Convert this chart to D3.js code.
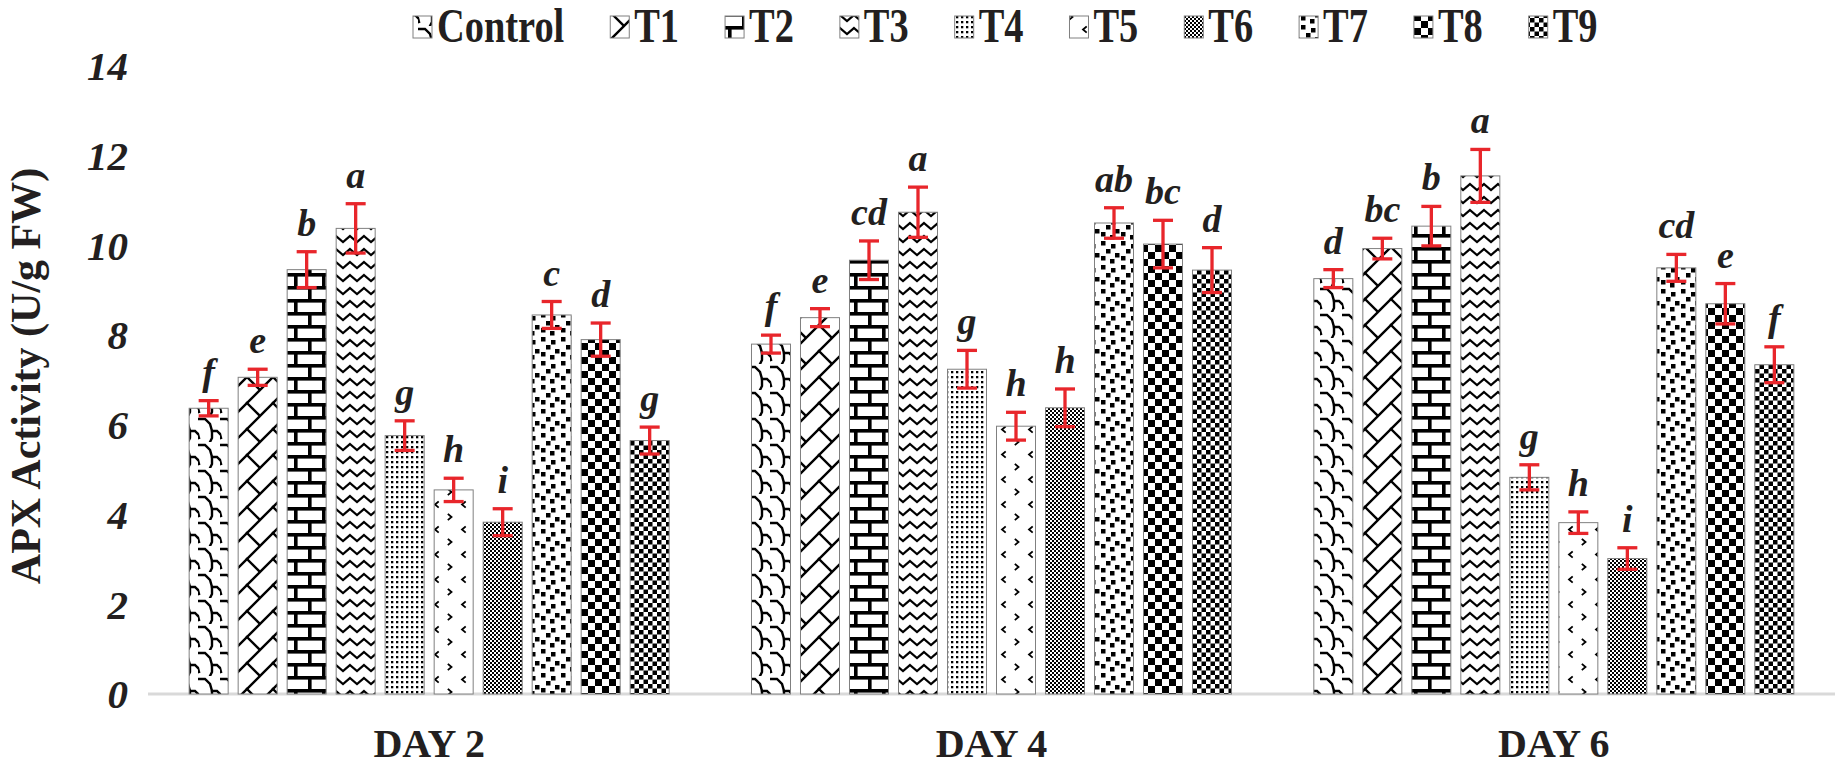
<!DOCTYPE html>
<meta charset="utf-8">
<style>
html, body { margin: 0; padding: 0; background: #fff; }
svg text { font-family: 'Liberation Serif', 'Times New Roman', serif; font-weight: bold; fill: #231f20; }
</style>
<body>
<script src="https://cdn.jsdelivr.net/npm/d3@7"></script>
<script>
// values
var categories = ["DAY 2", "DAY 4", "DAY 6"];
var treatments = ["Control", "T1", "T2", "T3", "T4", "T5", "T6", "T7", "T8", "T9"];
var day2 = [6.37, 7.06, 9.46, 10.38, 5.76, 4.55, 3.83, 8.45, 7.90, 5.65];
var day4 = [7.80, 8.39, 9.67, 10.74, 7.24, 5.97, 6.38, 10.50, 10.03, 9.45];
var day6 = [9.26, 9.93, 10.43, 11.55, 4.83, 3.82, 3.02, 9.50, 8.70, 7.34];
var err2 = [0.17, 0.18, 0.40, 0.55, 0.33, 0.26, 0.30, 0.30, 0.37, 0.30];
var err4 = [0.20, 0.20, 0.43, 0.56, 0.42, 0.31, 0.42, 0.34, 0.53, 0.50];
var err6 = [0.20, 0.23, 0.44, 0.59, 0.28, 0.24, 0.24, 0.30, 0.45, 0.40];
var letters2 = ["f", "e", "b", "a", "g", "h", "i", "c", "d", "g"];
var letters4 = ["f", "e", "cd", "a", "g", "h", "h", "ab", "bc", "d"];
var letters6 = ["d", "bc", "b", "a", "g", "h", "i", "cd", "e", "f"];
var yTicks = [0, 2, 4, 6, 8, 10, 12, 14];

var values = [day2, day4, day6], errs = [err2, err4, err6], letters = [letters2, letters4, letters6];

var W = 1837, H = 771;
var svg = d3.select("body").append("svg").attr("width", W).attr("height", H);

var x0 = d3.scaleBand().domain(categories).range([148, 1835]).paddingInner(0.1286).paddingOuter(0.0643);
var x1 = d3.scaleBand().domain(treatments).range([0, x0.bandwidth()]).paddingInner(0.204).paddingOuter(0.102);
var y = d3.scaleLinear().domain([0, 14]).range([694, 66]);

// fill patterns, one per treatment (black on white)
var defs = svg.append("defs");
function pat(id, w, h) {
  var p = defs.append("pattern").attr("id", id).attr("patternUnits", "userSpaceOnUse")
    .attr("width", w).attr("height", h);
  p.append("rect").attr("width", w).attr("height", h).attr("fill", "#fff");
  return p;
}
function line(p, d, sw) {
  p.append("path").attr("d", d).attr("fill", "none").attr("stroke", "#000")
    .attr("stroke-width", sw).attr("stroke-linecap", "square");
}
function sq(p, list, s) {
  list.forEach(function(c) {
    p.append("rect").attr("x", c[0]).attr("y", c[1]).attr("width", s).attr("height", s).attr("fill", "#000");
  });
}
// Control - shingle
var p0 = pat("p0", 22, 26);
line(p0, "M0,3 L7,3 L12,8 L14,15 L14,22 L12,26", 2.4);
line(p0, "M14,15 L19,15 L22,18", 2.4);
line(p0, "M0,18 L1,22", 2.4);
// T1 - diagonal brick
var p1 = pat("p1", 26, 26);
line(p1, "M0,26 L26,0", 2.4);
line(p1, "M13,13 L26,26", 2.4);
line(p1, "M-2,2 L2,-2 M24,28 L28,24", 2.4);
// T2 - horizontal brick
var p2 = pat("p2", 28, 26);
p2.append("rect").attr("x", 0).attr("y", 0).attr("width", 28).attr("height", 3.6).attr("fill", "#000");
p2.append("rect").attr("x", 0).attr("y", 13).attr("width", 28).attr("height", 3.6).attr("fill", "#000");
p2.append("rect").attr("x", 0).attr("y", 0).attr("width", 3.6).attr("height", 13).attr("fill", "#000");
p2.append("rect").attr("x", 14).attr("y", 13).attr("width", 3.6).attr("height", 13).attr("fill", "#000");
// T3 - zig zag
var p3 = pat("p3", 14, 13);
line(p3, "M0,2 L7,8 L14,2", 2.2);
// T4 - dotted grid
var p4 = pat("p4", 5, 5);
sq(p4, [[1, 1]], 2.3);
// T5 - divot
var p5 = pat("p5", 27, 25);
line(p5, "M6,2 L3,4.5 L6,7", 1.8);
line(p5, "M16.5,14.5 L19.5,17 L16.5,19.5", 1.8);
// T6 - small checkerboard
var p6 = pat("p6", 4, 4);
sq(p6, [[0, 0], [2, 2]], 2);
// T7 - large confetti
var p7 = pat("p7", 20, 24);
sq(p7, [[1, 1], [11, 4], [6, 9], [15, 13], [1, 16], [10, 19]], 4.5);
// T8 - large checkerboard
var p8 = pat("p8", 14, 14);
sq(p8, [[0, 0], [7, 7]], 7);
// T9 - medium checkerboard
var p9 = pat("p9", 9, 9);
sq(p9, [[0, 0], [4.5, 4.5]], 4.5);

// baseline
svg.append("line").attr("x1", 148).attr("x2", 1835).attr("y1", y(0)).attr("y2", y(0))
  .attr("stroke", "#d9d9d9").attr("stroke-width", 3);

// y tick labels
svg.append("g").selectAll("text").data(yTicks).join("text")
  .attr("x", 128).attr("y", function(d) { return y(d); }).attr("dy", "0.35em")
  .attr("text-anchor", "end").attr("font-size", 41).attr("font-style", "italic")
  .text(function(d) { return d; });

// y title
svg.append("text").attr("transform", "translate(40,376) rotate(-90)")
  .attr("text-anchor", "middle").attr("font-size", 42)
  .text("APX Activity (U/g FW)");

// category labels
svg.append("g").selectAll("text").data(categories).join("text")
  .attr("x", function(d) { return x0(d) + x0.bandwidth() / 2; }).attr("y", 757)
  .attr("text-anchor", "middle").attr("font-size", 40)
  .text(function(d) { return d; });

// bars
var rows = [];
categories.forEach(function(c, ci) {
  treatments.forEach(function(t, ti) {
    rows.push({cat: c, t: t, ti: ti, v: values[ci][ti], e: errs[ci][ti], l: letters[ci][ti]});
  });
});

var g = svg.append("g");
g.selectAll("rect").data(rows).join("rect")
  .attr("x", function(d) { return x0(d.cat) + x1(d.t); })
  .attr("y", function(d) { return y(d.v); })
  .attr("width", x1.bandwidth())
  .attr("height", function(d) { return y(0) - y(d.v); })
  .attr("fill", function(d) { return "url(#p" + d.ti + ")"; })
  .attr("stroke", "#808080").attr("stroke-width", 1);

// error bars
var eb = svg.append("g").attr("stroke", "#e8262b").attr("stroke-width", 3.3);
rows.forEach(function(d) {
  var cx = x0(d.cat) + x1(d.t) + x1.bandwidth() / 2;
  eb.append("line").attr("x1", cx).attr("x2", cx).attr("y1", y(d.v + d.e)).attr("y2", y(d.v - d.e));
  eb.append("line").attr("x1", cx - 10).attr("x2", cx + 10).attr("y1", y(d.v + d.e)).attr("y2", y(d.v + d.e));
  eb.append("line").attr("x1", cx - 10).attr("x2", cx + 10).attr("y1", y(d.v - d.e)).attr("y2", y(d.v - d.e));
});

// significance letters
svg.append("g").selectAll("text").data(rows).join("text")
  .attr("x", function(d) { return x0(d.cat) + x1(d.t) + x1.bandwidth() / 2; })
  .attr("y", function(d) { return y(d.v + d.e) - 16; })
  .attr("text-anchor", "middle").attr("font-size", 38).attr("font-style", "italic")
  .text(function(d) { return d.l; });

// legend (text is drawn narrow, as in the original)
var lg = svg.append("g");
var lx = 413, squeeze = 0.8;
treatments.forEach(function(t, i) {
  lg.append("rect").attr("x", lx).attr("y", 16).attr("width", 19).attr("height", 22)
    .attr("fill", "url(#p" + i + ")").attr("stroke", "#808080").attr("stroke-width", 1);
  var tx = lg.append("text").attr("transform", "translate(" + (lx + 24) + ",42) scale(" + squeeze + ",1)")
    .attr("font-size", 48).text(t);
  lx += 24 + tx.node().getComputedTextLength() * squeeze + 46;
});
</script>
</body>
